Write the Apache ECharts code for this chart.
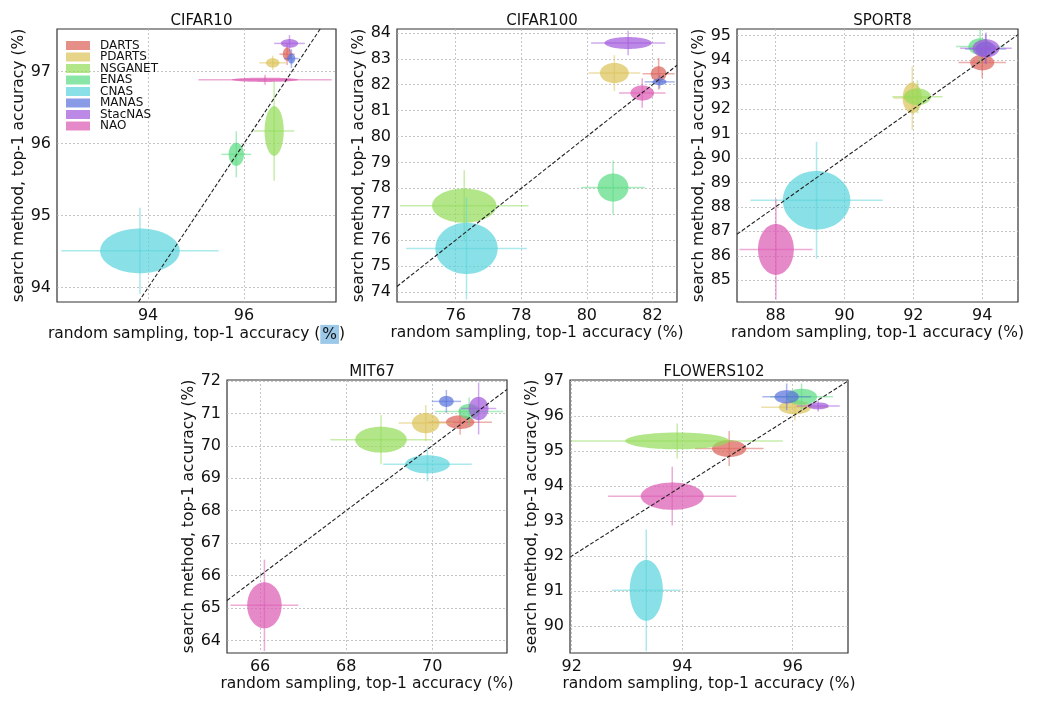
<!DOCTYPE html>
<html><head><meta charset="utf-8">
<script src="https://cdn.jsdelivr.net/npm/echarts@6/dist/echarts.min.js"></script>
<style>html,body{margin:0;padding:0;background:#fff}#c{width:1039px;height:702px}</style>
</head><body><div id="c"></div>
<script>
// ---------- DATA ----------
const methods = ['DARTS','PDARTS','NSGANET','ENAS','CNAS','MANAS','StacNAS','NAO'];
const datasets = ['CIFAR10','CIFAR100','SPORT8','MIT67','FLOWERS102'];

// order of every array follows `methods`
// randX = random sampling mean, searchY = search method mean,
// sdX/sdY = ellipse half-axes, errX/errY = error bar half-lengths
const cifar10RandX   = [96.90, 96.60, 96.63, 95.84, 93.83, 96.99, 96.95, 96.44];
const cifar10SearchY = [97.24, 97.12, 96.175, 95.85, 94.51, 97.18, 97.39, 96.885];
const cifar10SdX     = [0.09, 0.14, 0.20, 0.16, 0.83, 0.08, 0.18, 0.69];
const cifar10SdY     = [0.09, 0.065, 0.345, 0.16, 0.31, 0.07, 0.06, 0.03];
const cifar10ErrX    = [0.16, 0.28, 0.42, 0.31, 1.64, 0.15, 0.32, 1.39];
const cifar10ErrY    = [0.15, 0.10, 0.69, 0.32, 0.60, 0.13, 0.115, 0.07];

const cifar100RandX   = [82.19, 80.84, 76.26, 80.80, 76.33, 82.22, 81.26, 81.69];
const cifar100SearchY = [82.42, 82.45, 77.33, 78.03, 75.68, 82.11, 83.61, 81.68];
const cifar100SdX     = [0.24, 0.44, 0.98, 0.47, 0.95, 0.21, 0.72, 0.36];
const cifar100SdY     = [0.29, 0.39, 0.66, 0.54, 0.99, 0.13, 0.23, 0.29];
const cifar100ErrX    = [0.49, 0.79, 1.96, 0.97, 1.84, 0.46, 1.13, 0.71];
const cifar100ErrY    = [0.61, 0.69, 1.37, 1.04, 1.97, 0.26, 0.47, 0.57];

const sport8RandX   = [94.00, 91.97, 92.12, 93.94, 89.19, 94.10, 94.11, 88.01];
const sport8SearchY = [93.90, 92.45, 92.50, 94.55, 88.27, 94.45, 94.48, 86.26];
const sport8SdX     = [0.35, 0.28, 0.39, 0.34, 0.98, 0.30, 0.39, 0.52];
const sport8SdY     = [0.32, 0.63, 0.34, 0.34, 1.20, 0.30, 0.37, 1.04];
const sport8ErrX    = [0.69, 0.55, 0.73, 0.70, 1.92, 0.60, 0.75, 1.06];
const sport8ErrY    = [0.63, 1.30, 0.68, 0.70, 2.39, 0.60, 0.65, 2.06];

const mit67RandX   = [70.65, 69.85, 68.81, 70.86, 69.89, 70.33, 71.08, 66.10];
const mit67SearchY = [70.73, 70.70, 70.19, 71.06, 69.43, 71.37, 71.15, 65.08];
const mit67SdX     = [0.33, 0.32, 0.60, 0.25, 0.52, 0.17, 0.23, 0.40];
const mit67SdY     = [0.21, 0.31, 0.40, 0.23, 0.28, 0.17, 0.36, 0.71];
const mit67ErrX    = [0.74, 0.63, 1.18, 0.79, 1.03, 0.34, 0.41, 0.79];
const mit67ErrY    = [0.39, 0.56, 0.76, 0.43, 0.52, 0.35, 0.80, 1.41];

const flowersRandX   = [94.85, 96.04, 93.91, 96.16, 93.35, 95.89, 96.46, 93.82];
const flowersSearchY = [95.07, 96.25, 95.29, 96.55, 91.02, 96.55, 96.29, 93.71];
const flowersSdX     = [0.31, 0.29, 0.94, 0.28, 0.30, 0.22, 0.19, 0.57];
const flowersSdY     = [0.24, 0.20, 0.24, 0.23, 0.87, 0.19, 0.10, 0.39];
const flowersErrX    = [0.62, 0.61, 1.91, 0.57, 0.62, 0.44, 0.39, 1.16];
const flowersErrY    = [0.50, 0.38, 0.50, 0.38, 1.74, 0.38, 0.16, 0.84];

// tick labels
const cifar10XTicks = [94, 96];
const cifar10YTicks = [94, 95, 96, 97];
const cifar100XTicks = [76, 78, 80, 82];
const cifar100YTicks = [74, 75, 76, 77, 78, 79, 80, 81, 82, 83, 84];
const sport8XTicks = [88, 90, 92, 94];
const sport8YTicks = [85, 86, 87, 88, 89, 90, 91, 92, 93, 94, 95];
const mit67XTicks = [66, 68, 70];
const mit67YTicks = [64, 65, 66, 67, 68, 69, 70, 71, 72];
const flowersXTicks = [92, 94, 96];
const flowersYTicks = [90, 91, 92, 93, 94, 95, 96, 97];

const xLabel = 'random sampling, top-1 accuracy (%)';
const yLabel = 'search method, top-1 accuracy (%)';

// ---------- LAYOUT / STYLE ----------
const colors = ['#db5f57','#dbc257','#91db57','#57db80','#57d3db','#5770db','#a157db','#db57b2'];
function rgba(hex, a){const n=parseInt(hex.slice(1),16);return `rgba(${n>>16},${(n>>8)&255},${n&255},${a})`;}

const panels = [
  {name:'CIFAR10', grid:{left:57,top:29,width:279,height:273}, xr:[92.1,97.92], yr:[93.8,97.59],
   x:cifar10RandX,y:cifar10SearchY,sx:cifar10SdX,sy:cifar10SdY,ex:cifar10ErrX,ey:cifar10ErrY, xt:cifar10XTicks, yt:cifar10YTicks},
  {name:'CIFAR100', grid:{left:397,top:29,width:280,height:273}, xr:[74.21,82.75], yr:[73.61,84.15],
   x:cifar100RandX,y:cifar100SearchY,sx:cifar100SdX,sy:cifar100SdY,ex:cifar100ErrX,ey:cifar100ErrY, xt:cifar100XTicks, yt:cifar100YTicks},
  {name:'SPORT8', grid:{left:737,top:29,width:281,height:273}, xr:[86.88,95.04], yr:[84.11,95.27],
   x:sport8RandX,y:sport8SearchY,sx:sport8SdX,sy:sport8SdY,ex:sport8ErrX,ey:sport8ErrY, xt:sport8XTicks, yt:sport8YTicks},
  {name:'MIT67', grid:{left:227,top:380,width:280,height:273}, xr:[65.23,71.74], yr:[63.61,72.03],
   x:mit67RandX,y:mit67SearchY,sx:mit67SdX,sy:mit67SdY,ex:mit67ErrX,ey:mit67ErrY, xt:mit67XTicks, yt:mit67YTicks},
  {name:'FLOWERS102', grid:{left:570,top:380,width:278,height:273}, xr:[91.97,97.0], yr:[89.23,97.03],
   x:flowersRandX,y:flowersSearchY,sx:flowersSdX,sy:flowersSdY,ex:flowersErrX,ey:flowersErrY, xt:flowersXTicks, yt:flowersYTicks}
];

const FONT = 'DejaVu Sans';
const grids = [], xAxes = [], yAxes = [], series = [], titles = [];

panels.forEach((p, gi) => {
  grids.push(Object.assign({show:true, borderColor:'#333', borderWidth:1.2, backgroundColor:'transparent'}, p.grid));
  titles.push({text:p.name, left:p.grid.left + p.grid.width/2, top:p.grid.top - 20, textAlign:'center',
    textStyle:{fontFamily:FONT, fontSize:15, fontWeight:'normal', color:'#111'}});
  const xName = gi === 0 ? 'random sampling, top-1 accuracy ({hl|%})' : xLabel;
  xAxes.push({type:'value', gridIndex:gi, min:p.xr[0], max:p.xr[1],
    name:xName, nameLocation:'middle', nameGap:21,
    nameTextStyle:{fontFamily:FONT, fontSize:15.5, color:'#111',
      rich:{hl:{fontFamily:FONT, fontSize:15.5, color:'#111', backgroundColor:'#9cc8ea', padding:[2,2,1,2]}}},
    axisLine:{show:false}, axisTick:{show:false, customValues:p.xt},
    axisLabel:{customValues:p.xt, fontFamily:FONT, fontSize:16, color:'#111', margin:6},
    splitLine:{show:true, lineStyle:{color:'#b8b8b8', type:[2,2], width:0.8}}});
  yAxes.push({type:'value', gridIndex:gi, min:p.yr[0], max:p.yr[1],
    name:yLabel, nameLocation:'middle', nameGap:23, nameRotate:90,
    nameTextStyle:{fontFamily:FONT, fontSize:15.5, color:'#111'},
    axisLine:{show:false}, axisTick:{show:false, customValues:p.yt},
    axisLabel:{customValues:p.yt, fontFamily:FONT, fontSize:16, color:'#111', margin:6},
    splitLine:{show:true, lineStyle:{color:'#b8b8b8', type:[2,2], width:0.8}}});

  methods.forEach((m, mi) => {
    const col = colors[mi];
    series.push({
      type:'custom', name:m, xAxisIndex:gi, yAxisIndex:gi, silent:true,
      itemStyle:{color:rgba(col,0.7)},
      data:[[p.x[mi], p.y[mi], p.sx[mi], p.sy[mi], p.ex[mi], p.ey[mi]]],
      renderItem:function(params, api){
        const mx=api.value(0), my=api.value(1), sx=api.value(2), sy=api.value(3), ex=api.value(4), ey=api.value(5);
        const pts=[];
        for(let k=0;k<96;k++){const t=k/96*2*Math.PI; pts.push(api.coord([mx+sx*Math.cos(t), my+sy*Math.sin(t)]));}
        const h0=api.coord([mx-ex,my]), h1=api.coord([mx+ex,my]);
        const v0=api.coord([mx,my-ey]), v1=api.coord([mx,my+ey]);
        const lst={stroke:rgba(col,0.5), lineWidth:1.5, fill:null};
        return {type:'group', children:[
          {type:'line', shape:{x1:h0[0],y1:h0[1],x2:h1[0],y2:h1[1]}, style:lst},
          {type:'line', shape:{x1:v0[0],y1:v0[1],x2:v1[0],y2:v1[1]}, style:lst},
          {type:'polygon', shape:{points:pts}, style:{fill:rgba(col,0.7), stroke:null}}
        ]};
      }
    });
  });
  const lo = Math.max(p.xr[0], p.yr[0]), hi = Math.min(p.xr[1], p.yr[1]);
  series.push({type:'line', xAxisIndex:gi, yAxisIndex:gi, data:[[lo,lo],[hi,hi]], symbol:'none', silent:true, z:5,
    lineStyle:{color:'#222', width:1.1, type:[4,2]}});
});

const chart = echarts.init(document.getElementById('c'), null, {renderer:'canvas'});
chart.setOption({
  animation:false,
  backgroundColor:'#fff',
  title:titles,
  grid:grids, xAxis:xAxes, yAxis:yAxes,
  legend:{data:methods, orient:'vertical', left:66, top:39.5, itemWidth:24, itemHeight:9, itemGap:-0.5,
    icon:'rect', selectedMode:false, padding:0,
    textStyle:{fontFamily:FONT, fontSize:12, color:'#111', padding:[0,0,0,5]}},
  series:series
});
</script></body></html>
